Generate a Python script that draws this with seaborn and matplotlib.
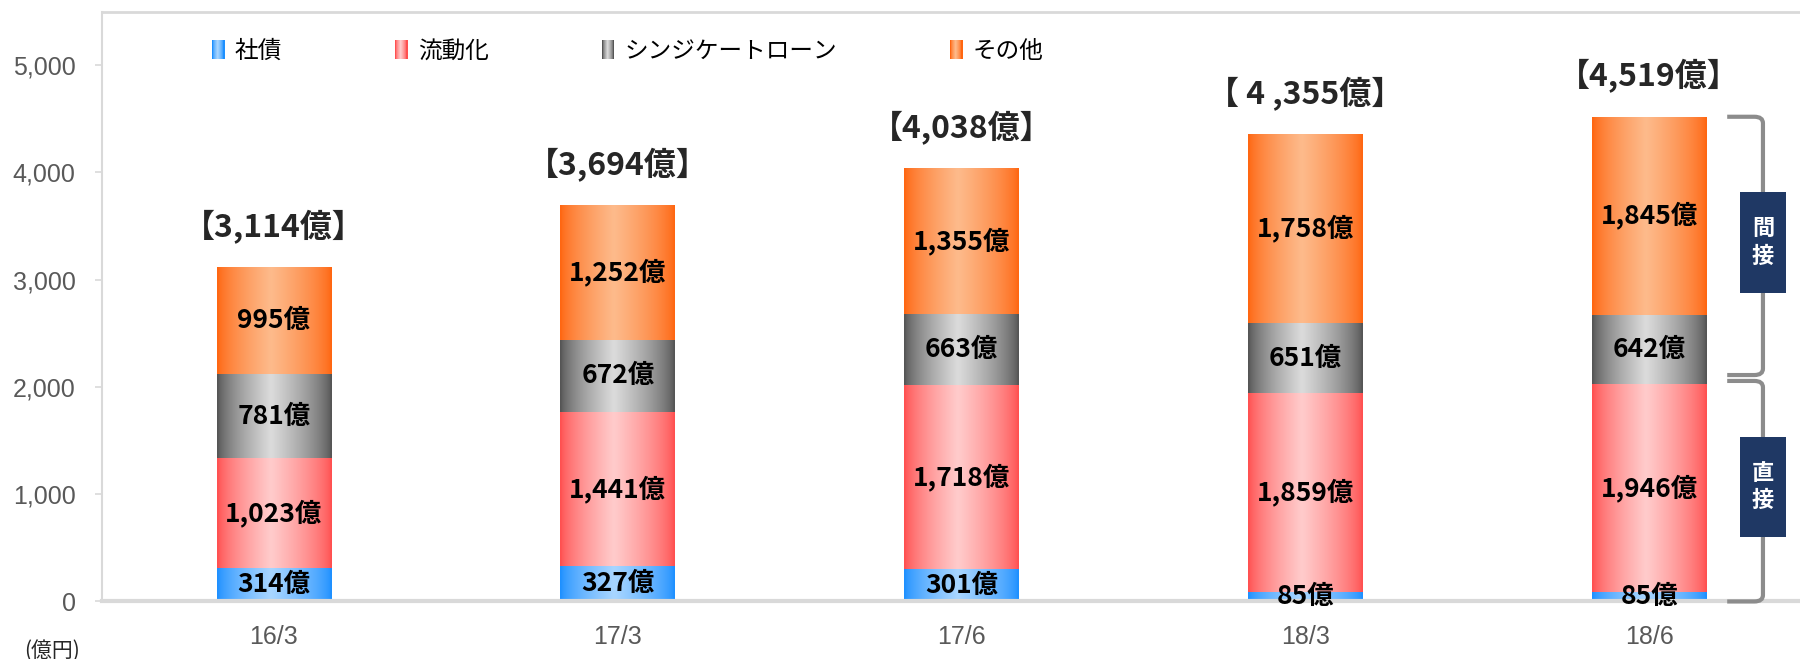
import numpy as np
import pandas as pd
import matplotlib
matplotlib.use("Agg")
import matplotlib.pyplot as plt
import seaborn as sns
from matplotlib.colors import to_rgb
from matplotlib.patches import Rectangle, PathPatch
from matplotlib.path import Path
from matplotlib.legend_handler import HandlerBase

# data
periods = ["16/3", "17/3", "17/6", "18/3", "18/6"]
bonds = [314, 327, 301, 85, 85]                     # 社債
securitization = [1023, 1441, 1718, 1859, 1946]     # 流動化
syndicated = [781, 672, 663, 651, 642]              # シンジケートローン
others = [995, 1252, 1355, 1758, 1845]              # その他
totals = [3114, 3694, 4038, 4355, 4519]
total_labels = ["【3,114億】", "【3,694億】", "【4,038億】", "【 4 ,355億】", "【4,519億】"]
series_names = ["社債", "流動化", "シンジケートローン", "その他"]

# (edge colour, centre colour) for the gradient fills
palette = [("#1E90FF", "#A9D6FF"),
           ("#FF5050", "#FFCCCC"),
           ("#555555", "#DCDCDC"),
           ("#FF6611", "#FDBB8C")]

sns.set_style("white")
plt.rcParams['font.family'] = ['Noto Sans CJK JP', 'DejaVu Sans']


def gradient_colors(dark, light, n=64):
    t = np.linspace(0, 1, n)
    c = 0.47
    w = np.where(t < c, t / c, (1 - t) / (1 - c))
    w = np.clip(w, 0, 1) ** 0.7
    d = np.array(to_rgb(dark))
    l = np.array(to_rgb(light))
    return d[None, :] + (l - d)[None, :] * w[:, None]


class GradientHandler(HandlerBase):
    def create_artists(self, legend, orig_handle, xdescent, ydescent,
                       width, height, fontsize, trans):
        cols = orig_handle.grad
        n = len(cols)
        arts = []
        for i, c in enumerate(cols):
            arts.append(Rectangle((-xdescent + width * i / n, -ydescent), width / n + 0.4, height,
                                  facecolor=c, edgecolor='none', lw=0, antialiased=False,
                                  transform=trans))
        return arts


df = pd.DataFrame({"period": periods, "社債": bonds, "流動化": securitization,
                   "シンジケートローン": syndicated, "その他": others})

fig = plt.figure(figsize=(18, 6.59), dpi=100)
ax = fig.add_axes([0.0567, 0.0873, 0.955, 0.8952])

bottom = np.zeros(len(periods))
for name, (dark, light) in zip(series_names, palette):
    sns.barplot(data=df, x="period", y=name, bottom=bottom, width=0.334,
                color=dark, ax=ax, zorder=2)
    bottom = bottom + df[name].values

# replace flat fills by horizontal gradients
for cont, (dark, light) in zip(ax.containers, palette):
    grad = gradient_colors(dark, light)[None, :, :]
    for p in cont.patches:
        x0, y0 = p.get_x(), p.get_y()
        x1, y1 = x0 + p.get_width(), y0 + p.get_height()
        ax.imshow(grad, extent=[x0, x1, y0, y1], aspect='auto',
                  interpolation='bilinear', zorder=2)
        p.set_facecolor('none')
        p.set_edgecolor('none')

# segment labels
for cont, name in zip(ax.containers, series_names):
    labs = ["{:,}億".format(v) for v in df[name]]
    ax.bar_label(cont, labels=labs, label_type='center', fontsize=19,
                 fontweight='bold', color='black', zorder=5)

# totals above bars
for i, (t, lab) in enumerate(zip(totals, total_labels)):
    ax.annotate(lab, xy=(i, t), xytext=(0, 29), textcoords='offset points',
                ha='center', va='center', fontsize=23, fontweight='bold')

ax.set_xlim(-0.5, 4.5)
ax.set_ylim(0, 5500)
ax.set_xlabel("")
ax.set_ylabel("")
ax.set_yticks(np.arange(0, 5001, 1000))
ax.set_yticklabels(["{:,}".format(v) for v in range(0, 5001, 1000)],
                   fontfamily='Liberation Sans', fontsize=18, color='#595959')
ax.set_xticks(range(len(periods)))
ax.set_xticklabels(periods, fontfamily='Liberation Sans', fontsize=18, color='#595959')
ax.set_xticks(np.arange(-0.5, 5, 1), minor=True)
ax.tick_params(axis='x', which='major', length=0, pad=17)
ax.tick_params(axis='x', which='minor', length=8, width=1.5, color='#D9D9D9')
ax.tick_params(axis='y', length=5, width=1.2, color='#D9D9D9', pad=14, left=True)

for s in ['left', 'top', 'bottom']:
    ax.spines[s].set_color('#D9D9D9')
ax.spines['left'].set_linewidth(1.5)
ax.spines['top'].set_linewidth(2)
ax.spines['bottom'].set_linewidth(3)
ax.spines['right'].set_visible(False)

# brackets on the right of the last bar
last = len(periods) - 1
boundary = bonds[last] + securitization[last]
spine_x = last + 0.331
end_x = last + 0.227
rx, ry = 0.025, 60


def bracket(top, bot):
    verts = [(end_x, top), (spine_x - rx, top), (spine_x, top), (spine_x, top - ry),
             (spine_x, bot + ry), (spine_x, bot), (spine_x - rx, bot), (end_x, bot)]
    codes = [Path.MOVETO, Path.LINETO, Path.CURVE3, Path.CURVE3,
             Path.LINETO, Path.CURVE3, Path.CURVE3, Path.LINETO]
    ax.add_patch(PathPatch(Path(verts, codes), facecolor='none', edgecolor='#8C8C8C',
                           lw=3, zorder=3, clip_on=False))


bracket(totals[last], boundary + 80)
bracket(boundary + 25, 0)

box_w, box_h = 0.134, 940
for lab, mid in [("間\n接", (totals[last] + boundary + 80) / 2 + 30),
                 ("直\n接", (boundary + 25) / 2 + 40)]:
    ax.add_patch(Rectangle((spine_x - box_w / 2, mid - box_h / 2), box_w, box_h,
                           facecolor='#1F3864', edgecolor='none', zorder=4, clip_on=False))
    ax.text(spine_x, mid, lab, ha='center', va='center', color='white', fontsize=16,
            fontweight='bold', linespacing=1.25, zorder=5)

# legend
handles = []
for dark, light in palette:
    h = Rectangle((0, 0), 1, 1)
    h.grad = gradient_colors(dark, light, 12)
    handles.append(h)
leg = fig.legend(handles, series_names, loc='upper left', bbox_to_anchor=(0.118, 0.94),
                 ncol=4, frameon=False, fontsize=17, handlelength=0.5, handleheight=0.85,
                 handletextpad=0.45, columnspacing=4.8, borderpad=0, borderaxespad=0,
                 handler_map={h: GradientHandler() for h in handles})
for txt in leg.get_texts():
    txt.set_color('black')

fig.text(0.029, 0.013, "(億円)", fontsize=15, color='#262626', ha='center', va='center')

fig.savefig("out.png", dpi=100)
